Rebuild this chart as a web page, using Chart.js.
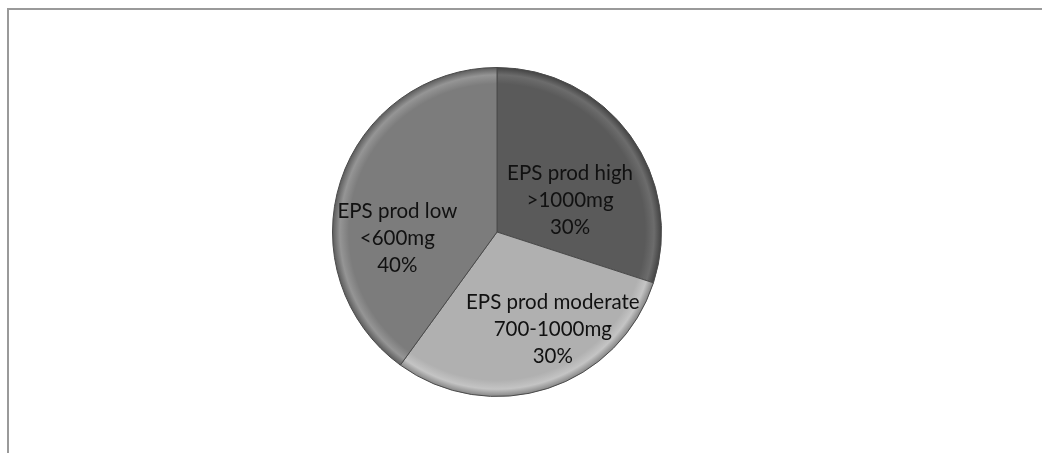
<!DOCTYPE html>
<html>
<head>
<meta charset="utf-8">
<script src="https://cdn.jsdelivr.net/npm/chart.js@4.4.1/dist/chart.umd.min.js"></script>
<style>
  html, body { margin: 0; padding: 0; background: #ffffff; }
  #wrap { position: relative; width: 1042px; height: 453px; }
</style>
</head>
<body>
<div id="wrap"><canvas id="c" width="1042" height="453"></canvas></div>
<script>
// ---- data ----
const categories = ["EPS prod high", "EPS prod moderate", "EPS prod low"];
const subLabels = [">1000mg", "700-1000mg", "<600mg"];
const values = [30, 30, 40];
const percentLabels = ["30%", "30%", "40%"];

// ---- style ----
const sliceColors = ["#5a5a5a", "#b0b0b0", "#7c7c7c"];
const rimLight = ["#6c6c6c", "#c4c4c4", "#959595"];
const rimDark = ["#434343", "#858585", "#5c5c5c"];
// label placement: fraction of radius and angle nudge (deg) relative to slice middle
const labelRadiusFrac = [0.485, 0.685, 0.607];
const labelAngleNudge = [12.3, -11.7, -21.4];

function sliceGradient(ctx) {
  const chart = ctx.chart;
  const el = chart.getDatasetMeta(0).data[ctx.dataIndex];
  const i = ctx.dataIndex;
  if (!el || !el.outerRadius) return sliceColors[i];
  const g = chart.ctx.createRadialGradient(el.x, el.y, 0, el.x, el.y, el.outerRadius);
  g.addColorStop(0, sliceColors[i]);
  g.addColorStop(0.90, sliceColors[i]);
  g.addColorStop(0.955, rimLight[i]);
  g.addColorStop(1, rimDark[i]);
  return g;
}

const framePlugin = {
  id: 'frame',
  beforeDraw(chart) {
    const c = chart.ctx;
    c.save();
    c.strokeStyle = '#9a9a9a';
    c.lineWidth = 2;
    c.beginPath();
    c.moveTo(8, 460);
    c.lineTo(8, 9);
    c.lineTo(1050, 9);
    c.stroke();
    c.restore();
  }
};

const labelPlugin = {
  id: 'sliceLabels',
  afterDatasetsDraw(chart) {
    const c = chart.ctx;
    const meta = chart.getDatasetMeta(0);
    c.save();
    c.font = '20.5px "Lato", "Liberation Sans", sans-serif';
    c.fillStyle = '#111111';
    c.textAlign = 'center';
    c.textBaseline = 'middle';
    const lineH = 27;
    meta.data.forEach((arc, i) => {
      const mid = (arc.startAngle + arc.endAngle) / 2 + labelAngleNudge[i] * Math.PI / 180;
      const r = arc.outerRadius * labelRadiusFrac[i];
      const x = arc.x + Math.cos(mid) * r;
      const y = arc.y + Math.sin(mid) * r;
      const lines = [categories[i], subLabels[i], percentLabels[i]];
      lines.forEach((t, k) => {
        c.fillText(t, x, y + (k - 1) * lineH);
      });
    });
    c.restore();
  }
};

const chart = new Chart(document.getElementById('c'), {
  type: 'pie',
  data: {
    labels: categories,
    datasets: [{
      data: values,
      backgroundColor: sliceGradient,
      borderColor: '#4a4a4a',
      borderWidth: 1
    }]
  },
  options: {
    responsive: false,
    animation: false,
    events: [],
    layout: { padding: { left: 332, right: 380, top: 67, bottom: 56 } },
    plugins: {
      legend: { display: false },
      tooltip: { enabled: false },
      title: { display: false }
    }
  },
  plugins: [framePlugin, labelPlugin]
});
chart.update();
</script>
</body>
</html>
